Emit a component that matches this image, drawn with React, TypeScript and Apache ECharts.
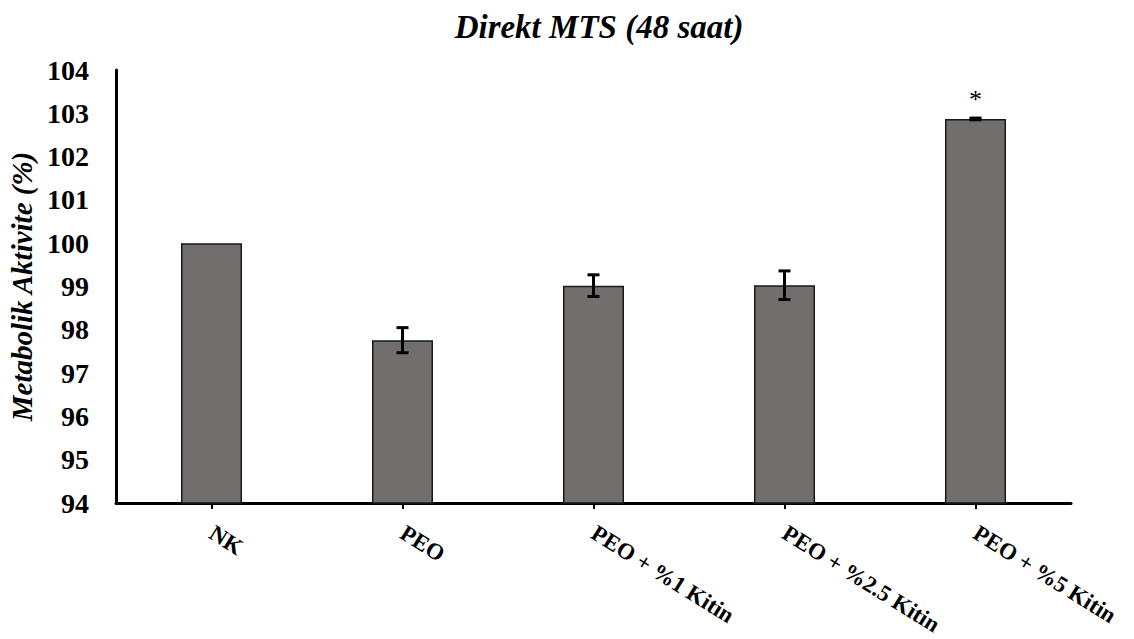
import React, { useEffect, useRef } from "react";
import * as echarts from "echarts";

const categories = ["NK", "PEO", "PEO + %1 Kitin", "PEO + %2.5 Kitin", "PEO + %5 Kitin"];
const means = [100, 97.76, 99.02, 99.03, 102.87];
const errors = [0, 0.29, 0.25, 0.33, 0.02];
const significance = ["", "", "", "", "*"];

export default function App() {
  const ref = useRef<HTMLDivElement>(null);
  useEffect(() => {
    if (!ref.current) return;
    const chart = echarts.init(ref.current, null, { renderer: "svg" });
    const font = "'Liberation Serif', 'Times New Roman', serif";
    const errData = means.map((m, i) => [i, m - errors[i], m + errors[i]]);
    chart.setOption({
      animation: false,
      backgroundColor: "#fff",
      title: {
        text: "Direkt MTS (48 saat)",
        left: 594,
        textAlign: "center",
        top: 5,
        textStyle: { fontFamily: font, fontSize: 33, fontWeight: "bold", fontStyle: "italic", color: "#000" },
      },
      grid: { left: 116, right: 63, top: 70, bottom: 136, containLabel: false, outerBoundsMode: "none" },
      xAxis: {
        type: "category",
        data: categories,
        axisLine: { lineStyle: { color: "#000", width: 3 } },
        axisTick: { show: true, alignWithLabel: true, length: 6, lineStyle: { color: "#000", width: 2 } },
        axisLabel: {
          rotate: -32,
          margin: 28,
          fontFamily: font,
          fontSize: 23,
          fontWeight: "bold",
          color: "#000",
          interval: 0,
        },
      },
      yAxis: {
        type: "value",
        min: 94,
        max: 104,
        interval: 1,
        name: "Metabolik Aktivite (%)",
        nameLocation: "middle",
        nameGap: 80,
        nameTextStyle: { fontFamily: font, fontSize: 29, fontWeight: "bold", fontStyle: "italic", color: "#000" },
        axisLine: { show: true, lineStyle: { color: "#000", width: 3 } },
        axisTick: { show: false },
        splitLine: { show: false },
        axisLabel: { margin: 27, fontFamily: font, fontSize: 28, fontWeight: "bold", color: "#000" },
      },
      series: [
        {
          type: "bar",
          barWidth: 61,
          data: means.map((v, i) => ({
            value: v,
            label: {
              show: significance[i] !== "",
              position: "top",
              distance: 6,
              formatter: significance[i],
              fontFamily: font,
              fontSize: 26,
              color: "#000",
            },
          })),
          itemStyle: { color: "#736e6e", borderColor: "#1a1a1a", borderWidth: 1.5 },
        },
        {
          type: "custom",
          data: errData,
          z: 10,
          renderItem: (params: any, api: any) => {
            const x = api.value(0);
            const lo = api.coord([x, api.value(1)]);
            const hi = api.coord([x, api.value(2)]);
            if (Math.abs(lo[1] - hi[1]) < 0.5) return null;
            const half = 6;
            const style = { stroke: "#000", lineWidth: 3 };
            return {
              type: "group",
              children: [
                { type: "line", shape: { x1: lo[0], y1: lo[1], x2: hi[0], y2: hi[1] }, style },
                { type: "line", shape: { x1: lo[0] - half, y1: lo[1], x2: lo[0] + half, y2: lo[1] }, style },
                { type: "line", shape: { x1: hi[0] - half, y1: hi[1], x2: hi[0] + half, y2: hi[1] }, style },
              ],
            };
          },
        },
      ],
    });
    return () => chart.dispose();
  }, []);
  return <div ref={ref} style={{ width: 1134, height: 639, position: "absolute", left: 0, top: 0 }} />;
}
